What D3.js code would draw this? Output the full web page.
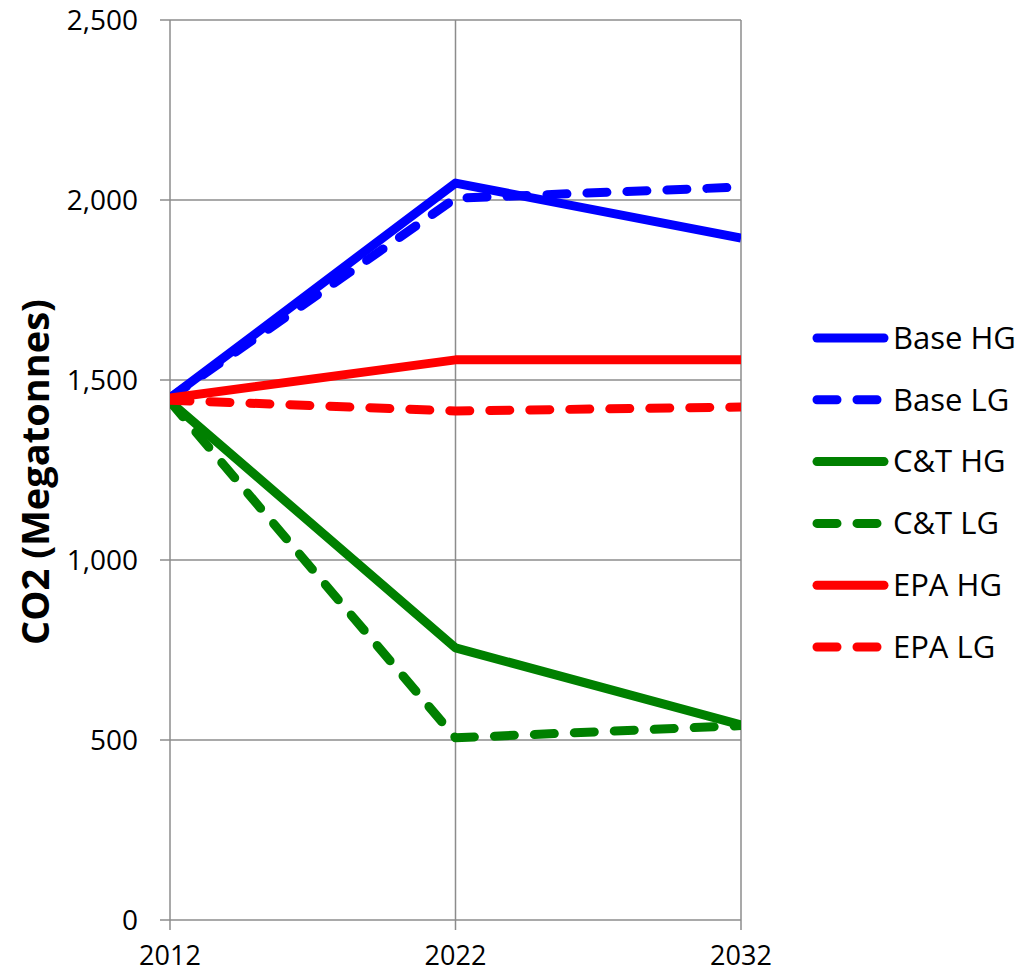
<!DOCTYPE html>
<html>
<head>
<meta charset="utf-8">
<script src="https://cdn.jsdelivr.net/npm/d3@7"></script>
<style>
  body { margin: 0; background: #fff; }
  svg { font-family: "Open Sans", Carlito, Calibri, sans-serif; }
</style>
</head>
<body>
<div class="chart"></div>
<script>
// Données
const years = [2012, 2022, 2032];
const seriesNames = ['Base HG', 'Base LG', 'C&T HG', 'C&T LG', 'EPA HG', 'EPA LG'];
const seriesColors = ['#0000ff', '#0000ff', '#008000', '#008000', '#ff0000', '#ff0000'];
const seriesDashed = [false, true, false, true, false, true];
const baseHG = [1450, 2047, 1894];
const baseLG = [1450, 2005, 2036];
const ctHG = [1440, 756, 542];
const ctLG = [1440, 506, 540];
const epaHG = [1450, 1556, 1556];
const epaLG = [1444, 1414, 1425];
const yTicks = [0, 500, 1000, 1500, 2000, 2500];

const seriesValues = [baseHG, baseLG, ctHG, ctLG, epaHG, epaLG];

const width = 1021;
const height = 974;
const margin = { top: 20, right: 280, bottom: 54, left: 170 };

const svg = d3.select('.chart')
	.append('svg')
	.attr('width', width)
	.attr('height', height);

const x = d3.scalePoint()
	.domain(years)
	.range([margin.left, 741]);

const y = d3.scaleLinear()
	.domain([0, 2500])
	.range([height - margin.bottom, margin.top]);

// Grille horizontale
svg.append('g')
	.selectAll('line')
	.data(yTicks)
	.join('line')
		.attr('x1', margin.left - 10)
		.attr('x2', x(2032))
		.attr('y1', d => y(d))
		.attr('y2', d => y(d))
		.attr('stroke', '#8c8c8c')
		.attr('stroke-width', 1.5);

// Lignes verticales (axe + grille)
svg.append('g')
	.selectAll('line')
	.data(years)
	.join('line')
		.attr('x1', d => x(d))
		.attr('x2', d => x(d))
		.attr('y1', y(2500))
		.attr('y2', y(0) + 10)
		.attr('stroke', '#8c8c8c')
		.attr('stroke-width', 1.5);

// Étiquettes axe Y
svg.append('g')
	.selectAll('text')
	.data(yTicks)
	.join('text')
		.attr('x', 138)
		.attr('y', d => y(d))
		.attr('dy', '0.35em')
		.attr('text-anchor', 'end')
		.style('font-size', '28px')
		.text(d => d3.format(',')(d));

// Étiquettes axe X
svg.append('g')
	.selectAll('text')
	.data(years)
	.join('text')
		.attr('x', d => x(d))
		.attr('y', 956)
		.attr('dy', '0.35em')
		.attr('text-anchor', 'middle')
		.style('font-size', '27px')
		.text(d => d);

// Titre axe Y
svg.append('text')
	.attr('transform', `translate(36, 472) rotate(-90)`)
	.attr('dy', '0.35em')
	.attr('text-anchor', 'middle')
	.style('font-size', '38px')
	.style('font-weight', 'bold')
	.text('CO2 (Megatonnes)');

// Zone de découpe
svg.append('clipPath')
	.attr('id', 'plot-clip')
	.append('rect')
		.attr('x', x(2012))
		.attr('y', 0)
		.attr('width', x(2032) - x(2012))
		.attr('height', height);

const line = d3.line()
	.x((d, i) => x(years[i]))
	.y(d => y(d));

svg.append('g')
	.attr('clip-path', 'url(#plot-clip)')
	.selectAll('path')
	.data(seriesValues)
	.join('path')
		.attr('d', d => line(d))
		.attr('fill', 'none')
		.attr('stroke', (d, i) => seriesColors[i])
		.attr('stroke-width', 9)
		.attr('stroke-linejoin', 'round')
		.attr('stroke-linecap', (d, i) => seriesDashed[i] ? 'round' : 'butt')
		.attr('stroke-dasharray', (d, i) => seriesDashed[i] ? '20,20' : null);

// Légende
const legend = svg.append('g')
	.selectAll('g')
	.data(seriesNames)
	.join('g')
		.attr('transform', (d, i) => `translate(813, ${338 + i * 61.8})`);

legend.append('line')
	.attr('x1', 4)
	.attr('x2', (d, i) => seriesDashed[i] ? 75 : 71)
	.attr('stroke', (d, i) => seriesColors[i])
	.attr('stroke-width', 9)
	.attr('stroke-linecap', 'round')
	.attr('stroke-dasharray', (d, i) => seriesDashed[i] ? '20,20' : null);

legend.append('text')
	.attr('x', 80)
	.attr('dy', '0.35em')
	.style('font-size', '31px')
	.text(d => d);
</script>
</body>
</html>
